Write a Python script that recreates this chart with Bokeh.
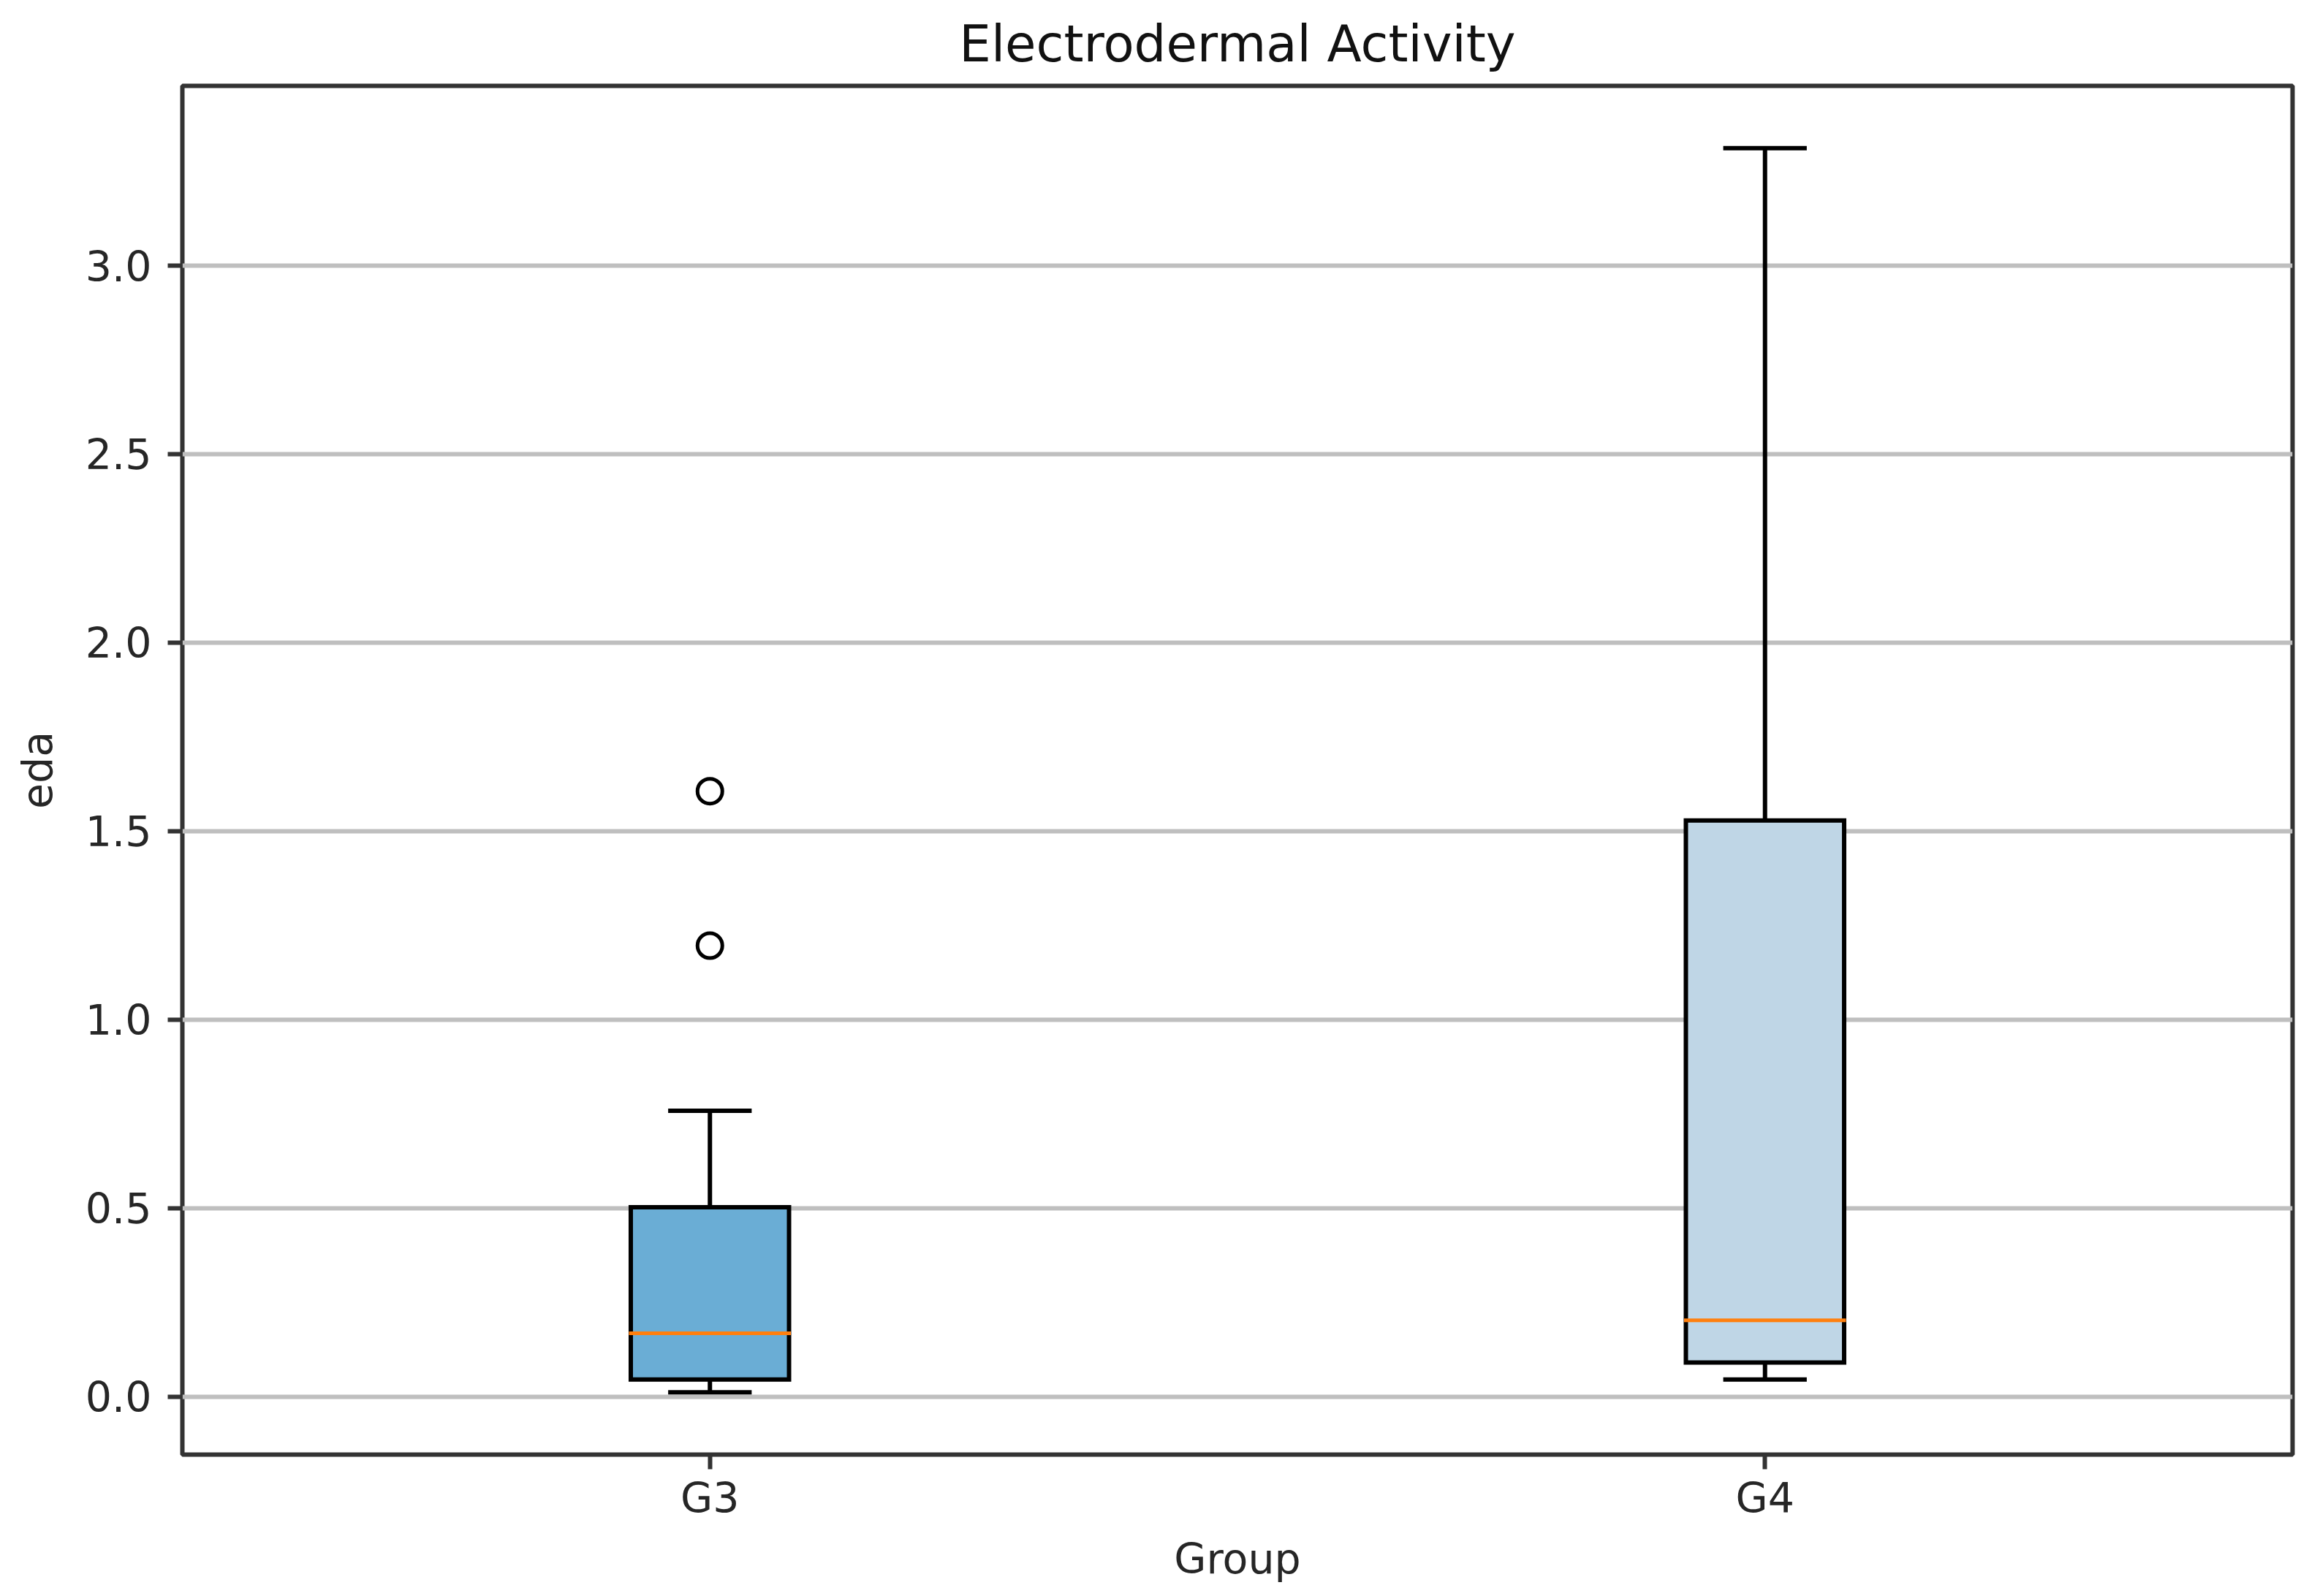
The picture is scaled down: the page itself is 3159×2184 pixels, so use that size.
from bokeh.plotting import figure
from bokeh.models import Range1d, FixedTicker, PrintfTickFormatter, ColumnDataSource
from bokeh.embed import file_html
from bokeh.resources import INLINE

# ---- data ----
groups = ["G3", "G4"]
q1 = [0.045, 0.090]
median = [0.168, 0.202]
q3 = [0.502, 1.528]
whisker_low = [0.011, 0.045]
whisker_high = [0.758, 3.312]
box_colors = ["#6aadd5", "#bfd6e6"]
outlier_group = ["G3", "G3"]
outlier_values = [1.606, 1.196]
y_ticks = [0.0, 0.5, 1.0, 1.5, 2.0, 2.5, 3.0]

FONT = "DejaVu Sans"
BOX_W = 0.15
CAP_W = 0.075
LW = 6

pos = [i + 1 for i in range(len(groups))]
out_pos = [pos[groups.index(g)] for g in outlier_group]

lo = min(whisker_low + outlier_values)
hi = max(whisker_high + outlier_values)
pad = 0.05 * (hi - lo)

p = figure(
    width=3143, height=2168,
    x_range=Range1d(0.5, len(groups) + 0.5),
    y_range=Range1d(lo - pad, hi + pad),
    output_backend="svg", toolbar_location=None,
    min_border_left=249, min_border_right=7,
    min_border_top=116, min_border_bottom=178,
    title="Electrodermal Activity",
)
p.background_fill_color = "white"
p.border_fill_color = "white"
p.outline_line_color = "#333333"
p.outline_line_width = LW

# title
p.title.text_font = FONT
p.title.text_font_size = "69px"
p.title.text_font_style = "normal"
p.title.text_color = "#111111"
p.title.align = "center"
p.title.standoff = 35

# grid
p.xgrid.visible = False
p.ygrid.grid_line_color = "#bfbfbf"
p.ygrid.grid_line_width = LW
p.ygrid.ticker = FixedTicker(ticks=y_ticks)

# axes
for ax in (p.xaxis[0], p.yaxis[0]):
    ax.axis_line_color = None
    ax.major_tick_line_color = "#333333"
    ax.major_tick_line_width = LW
    ax.major_tick_out = 20
    ax.major_tick_in = 0
    ax.minor_tick_line_color = None
    ax.major_label_text_font = FONT
    ax.major_label_text_font_size = "57px"
    ax.major_label_text_color = "#262626"
    ax.axis_label_text_font = FONT
    ax.axis_label_text_font_size = "57px"
    ax.axis_label_text_font_style = "normal"
    ax.axis_label_text_color = "#262626"

p.xaxis.ticker = FixedTicker(ticks=pos)
p.xaxis.major_label_overrides = {pp: g for pp, g in zip(pos, groups)}
p.xaxis.axis_label = "Group"
p.xaxis.major_label_standoff = 6
p.xaxis.axis_label_standoff = 14

p.yaxis.ticker = FixedTicker(ticks=y_ticks)
p.yaxis.formatter = PrintfTickFormatter(format="%.1f")
p.yaxis.axis_label = "eda"
p.yaxis.major_label_standoff = 22
p.yaxis.axis_label_standoff = 30

src = ColumnDataSource(dict(
    x=pos,
    left=[x - BOX_W / 2 for x in pos],
    right=[x + BOX_W / 2 for x in pos],
    cap_l=[x - CAP_W / 2 for x in pos],
    cap_r=[x + CAP_W / 2 for x in pos],
    q1=q1, q3=q3, med=median, lo=whisker_low, hi=whisker_high,
    color=box_colors,
))

# whiskers
p.segment(x0="x", y0="q3", x1="x", y1="hi", source=src, line_color="black", line_width=LW)
p.segment(x0="x", y0="q1", x1="x", y1="lo", source=src, line_color="black", line_width=LW)
# caps
p.segment(x0="cap_l", y0="hi", x1="cap_r", y1="hi", source=src, line_color="black",
          line_width=LW, line_cap="square")
p.segment(x0="cap_l", y0="lo", x1="cap_r", y1="lo", source=src, line_color="black",
          line_width=LW, line_cap="square")
# boxes
p.quad(left="left", right="right", top="q3", bottom="q1", source=src,
       fill_color="color", line_color="black", line_width=LW, line_join="miter")
# medians
p.segment(x0="left", y0="med", x1="right", y1="med", source=src, line_color="#ff7f0e",
          line_width=5, line_cap="square")
# outliers
p.scatter(x=out_pos, y=outlier_values, marker="circle", size=34, fill_color=None,
          line_color="black", line_width=5)

open("out.html", "w").write(file_html(p, INLINE))
